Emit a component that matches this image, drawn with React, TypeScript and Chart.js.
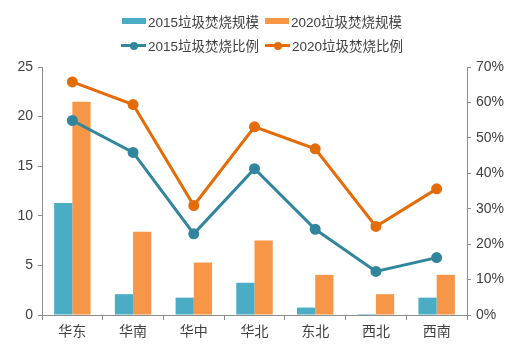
import React, { useEffect, useRef } from 'react';
import { Chart, registerables } from 'chart.js';

Chart.register(...registerables);

const categories = ['华东', '华南', '华中', '华北', '东北', '西北', '西南'];
const scale2015 = [11.3, 2.1, 1.75, 3.25, 0.75, 0.1, 1.75];
const scale2020 = [21.5, 8.4, 5.3, 7.5, 4.05, 2.1, 4.05];
const ratio2015 = [54.9, 45.9, 22.9, 41.3, 24.2, 12.3, 16.2];
const ratio2020 = [65.8, 59.4, 30.9, 53.1, 46.9, 25.0, 35.6];
const seriesNames = ['2015垃圾焚烧规模', '2020垃圾焚烧规模', '2015垃圾焚烧比例', '2020垃圾焚烧比例'];
const leftMax = 25;
const leftStep = 5;
const rightMax = 70;
const rightStep = 10;

const C_BAR15 = '#4bacc6';
const C_BAR20 = '#f79646';
const C_LINE15 = '#31859c';
const C_LINE20 = '#e36c09';
const FONT = "'Liberation Sans', 'Noto Sans CJK SC', sans-serif";
const TEXT = '#404040';
const AXIS = '#8c8c8c';

function BarSwatch({ color }: { color: string }) {
  return <span style={{ display: 'inline-block', width: 24, height: 6, background: color, marginRight: 2 }} />;
}

function LineSwatch({ color }: { color: string }) {
  return (
    <span style={{ position: 'relative', display: 'inline-block', width: 25, height: 10, marginRight: 2 }}>
      <span style={{ position: 'absolute', left: 0, top: 4, width: 25, height: 3, background: color }} />
      <span style={{ position: 'absolute', left: 8.5, top: 1.5, width: 8, height: 8, borderRadius: 4, background: color }} />
    </span>
  );
}

function LegendItem({ left, top, swatch, label }: { left: number; top: number; swatch: React.ReactNode; label: string }) {
  return (
    <div style={{ position: 'absolute', left, top, height: 20, display: 'flex', alignItems: 'center', fontFamily: FONT, fontSize: 13.5, color: TEXT, whiteSpace: 'nowrap' }}>
      {swatch}
      <span>{label}</span>
    </div>
  );
}

export default function App() {
  const ref = useRef<HTMLCanvasElement>(null);
  useEffect(() => {
    if (!ref.current) return;
    const chart = new Chart(ref.current, {
      type: 'bar',
      data: {
        labels: categories,
        datasets: [
          { type: 'bar', label: seriesNames[0], data: scale2015, backgroundColor: C_BAR15, yAxisID: 'y', order: 2, categoryPercentage: 0.6, barPercentage: 1.0 },
          { type: 'bar', label: seriesNames[1], data: scale2020, backgroundColor: C_BAR20, yAxisID: 'y', order: 2, categoryPercentage: 0.6, barPercentage: 1.0 },
          { type: 'line', label: seriesNames[2], data: ratio2015, borderColor: C_LINE15, backgroundColor: C_LINE15, borderWidth: 3, pointRadius: 4, pointBackgroundColor: C_LINE15, pointBorderColor: C_LINE15, yAxisID: 'y1', order: 1, tension: 0 },
          { type: 'line', label: seriesNames[3], data: ratio2020, borderColor: C_LINE20, backgroundColor: C_LINE20, borderWidth: 3, pointRadius: 4, pointBackgroundColor: C_LINE20, pointBorderColor: C_LINE20, yAxisID: 'y1', order: 1, tension: 0 },
        ] as any,
      },
      options: {
        responsive: false,
        animation: false,
        layout: { padding: { top: 67, bottom: 0, left: 0, right: 0 } },
        plugins: { legend: { display: false }, tooltip: { enabled: false } },
        scales: {
          x: {
            grid: { display: true, drawOnChartArea: false, offset: true, tickLength: 5, color: AXIS },
            border: { color: AXIS },
            ticks: { font: { family: FONT, size: 14 }, color: TEXT, padding: 4 },
            afterFit: (s: any) => { s.height = 42; },
          },
          y: {
            position: 'left',
            min: 0,
            max: leftMax,
            grid: { drawOnChartArea: false, tickLength: 4, color: AXIS },
            border: { color: AXIS },
            ticks: { stepSize: leftStep, font: { family: FONT, size: 14 }, color: TEXT, padding: 5 },
            afterFit: (s: any) => { s.width = 42; },
          },
          y1: {
            position: 'right',
            min: 0,
            max: rightMax,
            grid: { drawOnChartArea: false, tickLength: 4, color: AXIS },
            border: { color: AXIS },
            ticks: { stepSize: rightStep, font: { family: FONT, size: 14 }, color: TEXT, padding: 5, callback: (v: any) => v + '%' },
            afterFit: (s: any) => { s.width = 60; },
          },
        },
      } as any,
    });
    return () => chart.destroy();
  }, []);

  return (
    <div style={{ position: 'fixed', left: 0, top: 0, width: 527, height: 357, background: '#fff' }}>
      <canvas ref={ref} width={527} height={357} style={{ display: 'block', width: 527, height: 357 }} />
      <LegendItem left={122} top={11} swatch={<BarSwatch color={C_BAR15} />} label={seriesNames[0]} />
      <LegendItem left={265} top={11} swatch={<BarSwatch color={C_BAR20} />} label={seriesNames[1]} />
      <LegendItem left={121} top={35} swatch={<LineSwatch color={C_LINE15} />} label={seriesNames[2]} />
      <LegendItem left={265} top={35} swatch={<LineSwatch color={C_LINE20} />} label={seriesNames[3]} />
    </div>
  );
}
